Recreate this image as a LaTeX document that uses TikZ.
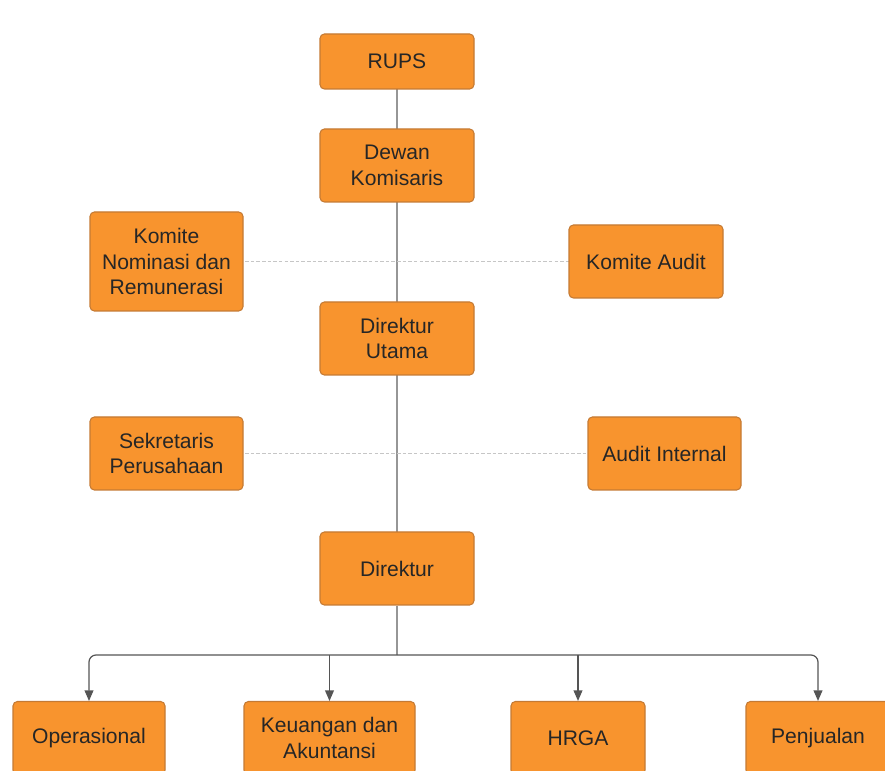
\documentclass[tikz,border=0pt]{standalone}
\usepackage{fontspec}
\setmainfont{Liberation Sans}
\usepackage{xcolor}
\usepackage{tikz}
\usetikzlibrary{positioning,arrows.meta}

\definecolor{boxorange}{RGB}{248,148,46}
\definecolor{boxedge}{RGB}{196,122,52}
\definecolor{linegray}{RGB}{150,150,150}
\definecolor{arrowgray}{RGB}{85,85,85}

\tikzset{
    unit/.style={rectangle, rounded corners=2.5pt, fill=boxorange, draw=boxedge, line width=0.6pt,
        minimum width=3.08cm, minimum height=1.46cm, inner sep=0pt, align=center,
        text=black!85, font=\fontsize{12}{14.5}\selectfont},
    mainline/.style={linegray, line width=0.8pt},
    staffline/.style={gray!45, line width=0.6pt, dash pattern=on 2pt off 1.2pt},
    branch/.style={arrowgray, line width=0.7pt, rounded corners=4pt, -{Triangle[width=5pt,length=6pt]}}
}

\begin{document}
\begin{tikzpicture}
    \useasboundingbox (0, 0) rectangle (17.7, 15.42);

    \coordinate (RUPS) at (7.94, 14.19);
    \coordinate (DK) at (7.94, 12.11);
    \coordinate (KNR) at (3.33, 10.19);
    \coordinate (KA) at (12.92, 10.19);
    \coordinate (DU) at (7.94, 8.65);
    \coordinate (SP) at (3.33, 6.35);
    \coordinate (AI) at (13.29, 6.35);
    \coordinate (DIR) at (7.94, 4.05);

    \coordinate (OPS) at (1.78, 0.66);
    \coordinate (KEU) at (6.59, 0.66);
    \coordinate (HRGA) at (11.56, 0.66);
    \coordinate (PJL) at (16.36, 0.66);

    \draw [mainline] (RUPS) to (DK);
    \draw [mainline] (DK) to (DU);
    \draw [mainline] (DU) to (DIR);
    \draw [staffline] (KNR) to (KA);
    \draw [staffline] (SP) to (AI);

    \node [unit, minimum height=1.1cm] (rups) at (RUPS) {RUPS};
    \node [unit] (dewan) at (DK) {Dewan\\Komisaris};
    \node [unit, minimum width=3.06cm, minimum height=1.98cm] (nominasi) at (KNR) {Komite\\Nominasi dan\\Remunerasi};
    \node [unit] (komaudit) at (KA) {Komite Audit};
    \node [unit] (dirut) at (DU) {Direktur\\Utama};
    \node [unit, minimum width=3.06cm] (sekretaris) at (SP) {Sekretaris\\Perusahaan};
    \node [unit, minimum width=3.06cm] (internal) at (AI) {Audit Internal};
    \node [unit] (direktur) at (DIR) {Direktur};

    \node [unit, minimum width=3.04cm] (operasional) at (OPS) {Operasional};
    \node [unit, minimum width=3.42cm] (keuangan) at (KEU) {Keuangan dan\\Akuntansi};
    \node [unit, minimum width=2.68cm] (hrga) at (HRGA) {HRGA};
    \node [unit, minimum width=2.88cm] (penjualan) at (PJL) {Penjualan};

    \coordinate (bus) at (7.94, 2.32);
    \draw [mainline] (direktur.south) to (bus);
    \draw [branch] (bus) -| (operasional.north);
    \draw [branch] (bus) -| (penjualan.north);
    \draw [branch] (keuangan.north |- bus) to (keuangan.north);
    \draw [branch] (hrga.north |- bus) to (hrga.north);
\end{tikzpicture}
\end{document}
